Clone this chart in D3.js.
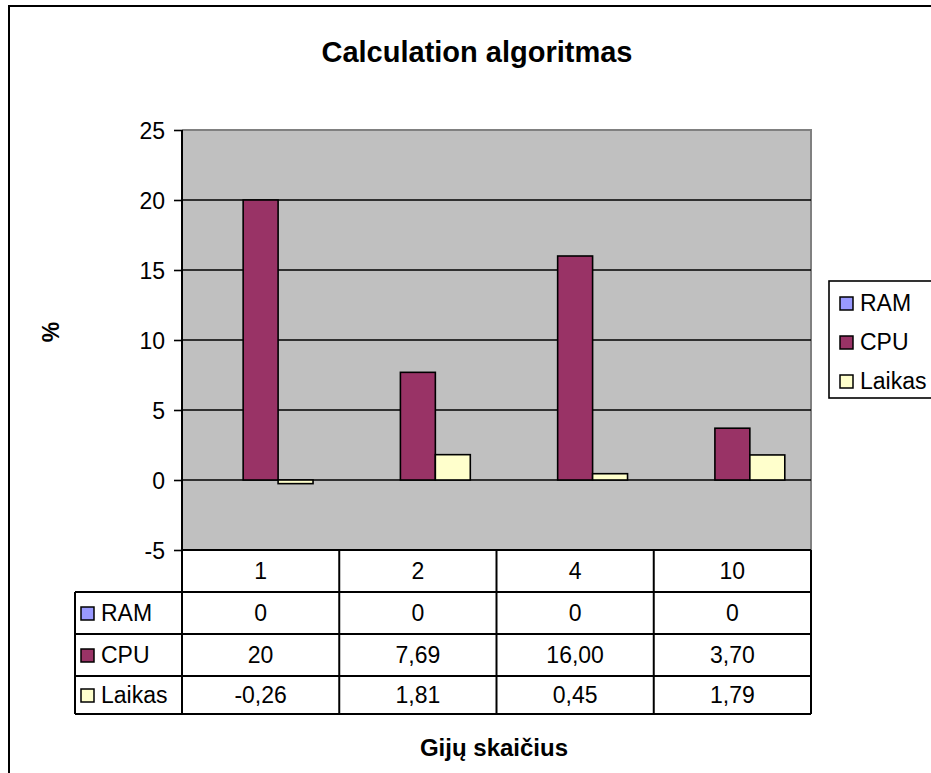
<!DOCTYPE html>
<html><head><meta charset="utf-8">
<script src="https://cdn.jsdelivr.net/npm/d3@7"></script>
<style>
html,body{margin:0;padding:0;background:#fff;overflow:hidden}
text{font-family:"Liberation Sans",Arial,sans-serif;fill:#000}
</style></head>
<body><svg id="c" width="931" height="773"></svg>
<script>
const categories = ["1","2","4","10"];
const seriesNames = ["RAM","CPU","Laikas"];
const ramValues = [0,0,0,0];
const cpuValues = [20,7.69,16.00,3.70];
const laikasValues = [-0.26,1.81,0.45,1.79];
const ramLabels = ["0","0","0","0"];
const cpuLabels = ["20","7,69","16,00","3,70"];
const laikasLabels = ["-0,26","1,81","0,45","1,79"];
const yTicks = [-5,0,5,10,15,20,25];
const yTickLabels = ["-5","0","5","10","15","20","25"];
const colors = ["#9999FF","#993366","#FFFFCC"];
const title = "Calculation algoritmas";
const xTitle = "Gijų skaičius";
const yTitle = "%";

const series = [ramValues, cpuValues, laikasValues];
const seriesLabels = [ramLabels, cpuLabels, laikasLabels];

const svg = d3.select("#c");
const L = 182, R = 811, T = 130, B = 550;
const tableLeft = 75;
const rowH = [550, 592, 634, 676, 714];
const FS = 23;

// outer border
svg.append("rect").attr("x",9).attr("y",6).attr("width",960).attr("height",800)
  .attr("fill","#fff").attr("stroke","#000").attr("stroke-width",2);

const y = d3.scaleLinear().domain([-5,25]).range([B,T]);
const x = d3.scaleBand().domain(categories).range([L,R]);
const xi = d3.scaleBand().domain(seriesNames).range([0,x.bandwidth()]).paddingInner(0).paddingOuter(0.75);

// plot area
svg.append("rect").attr("x",L).attr("y",T).attr("width",R-L).attr("height",B-T).attr("fill","#C0C0C0");
svg.append("path").attr("d",`M${L},${T}H${R}V${B}`).attr("fill","none").attr("stroke","#808080").attr("stroke-width",2);

// gridlines
svg.append("g").selectAll("line").data(yTicks.filter(t=>t>-5 && t<25)).join("line")
  .attr("x1",L).attr("x2",R).attr("y1",d=>y(d)).attr("y2",d=>y(d))
  .attr("stroke","#000").attr("stroke-width",1.6);

// bars
const gBars = svg.append("g");
series.forEach((vals,si)=>{
  gBars.selectAll(null).data(vals).join("rect")
    .attr("x",(d,i)=>x(categories[i])+xi(seriesNames[si]))
    .attr("y",d=>y(Math.max(0,d)))
    .attr("width",xi.bandwidth())
    .attr("height",d=>Math.abs(y(d)-y(0)))
    .attr("fill",colors[si]).attr("stroke",d=>d===0?"none":"#000").attr("stroke-width",1.6);
});

// y axis
const yAxis = d3.axisLeft(y).tickValues(yTicks).tickSize(8).tickPadding(9)
  .tickFormat((d,i)=>yTickLabels[i]);
const ga = svg.append("g").attr("transform",`translate(${L},0)`).call(yAxis);
ga.attr("font-size",null).attr("font-family",null);
ga.select(".domain").attr("stroke","#000").attr("stroke-width",2).attr("d",`M0,${T}V${rowH[4]}`);
ga.selectAll(".tick line").attr("stroke","#000").attr("stroke-width",1.6);
ga.selectAll(".tick text").attr("font-size",FS).attr("fill","#000").attr("dy","0.36em");

// data table lines
const gt = svg.append("g").attr("stroke","#000").attr("stroke-width",2);
gt.append("line").attr("x1",L).attr("x2",R).attr("y1",B).attr("y2",B);
categories.forEach((c,i)=>{
  const xx = x(c)+x.bandwidth();
  gt.append("line").attr("x1",xx).attr("x2",xx).attr("y1",rowH[0]).attr("y2",rowH[4]);
});
for(let r=1;r<5;r++) gt.append("line").attr("x1",tableLeft).attr("x2",R).attr("y1",rowH[r]).attr("y2",rowH[r]);
gt.append("line").attr("x1",tableLeft).attr("x2",tableLeft).attr("y1",rowH[1]).attr("y2",rowH[4]);

// category labels
svg.append("g").selectAll("text").data(categories).join("text")
  .attr("x",d=>x(d)+x.bandwidth()/2).attr("y",(rowH[0]+rowH[1])/2+8)
  .attr("text-anchor","middle").attr("font-size",FS).text(d=>d);

// table rows
seriesNames.forEach((s,si)=>{
  const cy = (rowH[si+1]+rowH[si+2])/2;
  svg.append("rect").attr("x",81).attr("y",cy-6).attr("width",13).attr("height",13)
    .attr("fill",colors[si]).attr("stroke","#000").attr("stroke-width",1.5);
  svg.append("text").attr("x",101).attr("y",cy+8).attr("font-size",FS).text(s);
  svg.append("g").selectAll("text").data(seriesLabels[si]).join("text")
    .attr("x",(d,i)=>x(categories[i])+x.bandwidth()/2).attr("y",cy+8)
    .attr("text-anchor","middle").attr("font-size",FS).text(d=>d);
});

// legend
const lg = svg.append("g");
lg.append("rect").attr("x",829).attr("y",281).attr("width",120).attr("height",117)
  .attr("fill","#fff").attr("stroke","#000").attr("stroke-width",1.6);
seriesNames.forEach((s,si)=>{
  const cy = 303 + si*39;
  lg.append("rect").attr("x",840).attr("y",cy-6).attr("width",13).attr("height",13)
    .attr("fill",colors[si]).attr("stroke","#000").attr("stroke-width",1.5);
  lg.append("text").attr("x",860).attr("y",cy+8).attr("font-size",FS).text(s);
});

// titles
svg.append("text").attr("x",477).attr("y",62).attr("text-anchor","middle")
  .attr("font-size",29).attr("font-weight","bold").text(title);
svg.append("text").attr("x",494).attr("y",756).attr("text-anchor","middle")
  .attr("font-size",24).attr("font-weight","bold").text(xTitle);
svg.append("text").attr("transform","translate(59,332) rotate(-90)").attr("text-anchor","middle")
  .attr("font-size",23).attr("font-weight","bold").text(yTitle);
</script></body></html>
